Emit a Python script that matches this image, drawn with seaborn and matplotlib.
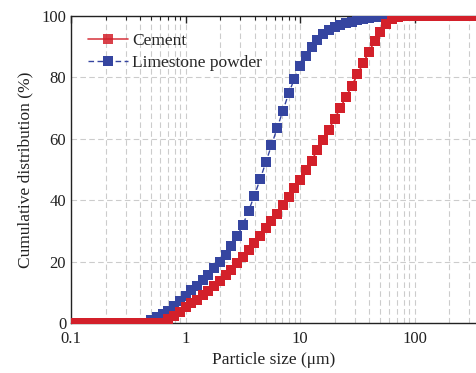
import numpy as np
import pandas as pd
import seaborn as sns
import matplotlib
matplotlib.use("Agg")
import matplotlib.pyplot as plt
from matplotlib.ticker import LogLocator, FixedLocator, NullFormatter, FuncFormatter

# particle size grid (um), 20 bins per decade
sizes = [0.1, 0.112, 0.126, 0.141, 0.158, 0.178, 0.2, 0.224, 0.251, 0.282,
         0.316, 0.355, 0.398, 0.447, 0.501, 0.562, 0.631, 0.708, 0.794, 0.891,
         1.0, 1.12, 1.26, 1.41, 1.58, 1.78, 2.0, 2.24, 2.51, 2.82,
         3.16, 3.55, 3.98, 4.47, 5.01, 5.62, 6.31, 7.08, 7.94, 8.91,
         10.0, 11.2, 12.6, 14.1, 15.8, 17.8, 20.0, 22.4, 25.1, 28.2,
         31.6, 35.5, 39.8, 44.7, 50.1, 56.2, 63.1, 70.8, 79.4, 89.1,
         100.0, 112.0, 126.0, 141.0, 158.0, 178.0, 200.0, 224.0, 251.0, 282.0,
         316.0, 355.0]

cement = [0, 0, 0, 0, 0, 0, 0, 0, 0, 0,
          0, 0, 0, 0, 0, 0, 0, 1.2, 2.4, 3.7,
          5.1, 6.4, 7.6, 9.0, 10.5, 12.1, 13.8, 15.6, 17.4, 19.4,
          21.5, 23.8, 26.1, 28.5, 30.9, 33.2, 35.6, 38.3, 41.1, 43.9,
          46.6, 49.7, 52.9, 56.3, 59.6, 63.0, 66.6, 70.0, 73.6, 77.2,
          81.0, 84.6, 88.3, 91.8, 94.8, 97.4, 99.0, 99.8, 100, 100,
          100, 100, 100, 100, 100, 100, 100, 100, 100, 100,
          100, 100]

limestone = [0, 0, 0, 0, 0, 0, 0, 0, 0, 0,
             0, 0, 0, 0, 1.0, 1.8, 2.8, 4.0, 5.5, 7.2,
             8.9, 10.6, 12.2, 14.0, 15.8, 17.8, 19.9, 22.3, 25.0, 28.3,
             32.0, 36.5, 41.5, 46.8, 52.3, 57.9, 63.6, 69.2, 74.8, 79.6,
             83.6, 87.0, 89.8, 92.2, 94.0, 95.3, 96.3, 97.0, 97.6, 98.1,
             98.6, 99.0, 99.3, 99.6, 99.8, 100, 100, 100, 100, 100,
             100, 100, 100, 100, 100, 100, 100, 100, 100, 100,
             100, 100]

series_names = ["Cement", "Limestone powder"]
colors = {"Cement": "#d3202a", "Limestone powder": "#3545a0"}

df = pd.concat([
    pd.DataFrame({"size": sizes, "cum": limestone, "material": "Limestone powder"}),
    pd.DataFrame({"size": sizes, "cum": cement, "material": "Cement"}),
])

sns.set_style("white")
plt.rcParams["font.family"] = ["Liberation Serif", "DejaVu Serif"]
plt.rcParams["mathtext.fontset"] = "stix"

fig = plt.figure(figsize=(4.77, 3.73), dpi=100)
ax = fig.add_axes([0.149, 0.134, 0.851, 0.823])

ax.set_xscale("log")

ax.grid(True, which="major", axis="both", color="#cccccc", linestyle=(0, (5, 3)), linewidth=0.8, zorder=0)
ax.grid(True, which="minor", axis="x", color="#cccccc", linestyle=(0, (5, 3)), linewidth=0.8, zorder=0)
ax.set_axisbelow(True)

sns.lineplot(data=df[df.material == "Limestone powder"], x="size", y="cum",
             color=colors["Limestone powder"], marker="s", markersize=6.6,
             markeredgewidth=0, linestyle=(0, (4, 2.5)), linewidth=1.0,
             ax=ax, label="Limestone powder", clip_on=True, zorder=3)
sns.lineplot(data=df[df.material == "Cement"], x="size", y="cum",
             color=colors["Cement"], marker="s", markersize=6.6,
             markeredgewidth=0, linestyle="-", linewidth=1.2,
             ax=ax, label="Cement", clip_on=True, zorder=4)

ax.set_xlim(0.1, 350)
ax.set_ylim(0, 100)

ax.xaxis.set_major_locator(FixedLocator([0.1, 1, 10, 100]))
ax.xaxis.set_major_formatter(FuncFormatter(lambda v, p: {0.1: "0.1", 1: "1", 10: "10", 100: "100"}.get(round(v, 3), "")))
ax.xaxis.set_minor_locator(LogLocator(base=10, subs=np.arange(2, 10), numticks=20))
ax.xaxis.set_minor_formatter(NullFormatter())
ax.set_yticks([0, 20, 40, 60, 80, 100])
ax.set_yticks([10, 30, 50, 70, 90], minor=True)

ax.tick_params(axis="both", which="major", direction="in", length=5, width=1, labelsize=12,
               top=True, right=False, colors="#222222", labelcolor="#222222")
ax.tick_params(axis="both", which="minor", direction="in", length=3, width=0.8, top=True, right=False, colors="#222222")
ax.tick_params(axis="x", which="major", pad=6)

for side in ["left", "bottom", "top"]:
    ax.spines[side].set_visible(True)
    ax.spines[side].set_color("#222222")
    ax.spines[side].set_linewidth(1.0)
ax.spines["right"].set_visible(False)

ax.set_xlabel("Particle size (μm)", fontsize=12.5, color="#222222", labelpad=3)
ax.set_ylabel("Cumulative distribution (%)", fontsize=12.5, color="#222222", labelpad=6)

handles, labels = ax.get_legend_handles_labels()
order = [labels.index(n) for n in series_names]
leg = ax.legend([handles[i] for i in order], [labels[i] for i in order],
                loc="upper left", bbox_to_anchor=(0.012, 0.985), frameon=False,
                fontsize=12.5, handlelength=2.3, handletextpad=0.25, labelspacing=0.35,
                borderaxespad=0.3)
leg.legend_handles[0].set_alpha(0.85)

fig.savefig("out.png", dpi=100)
